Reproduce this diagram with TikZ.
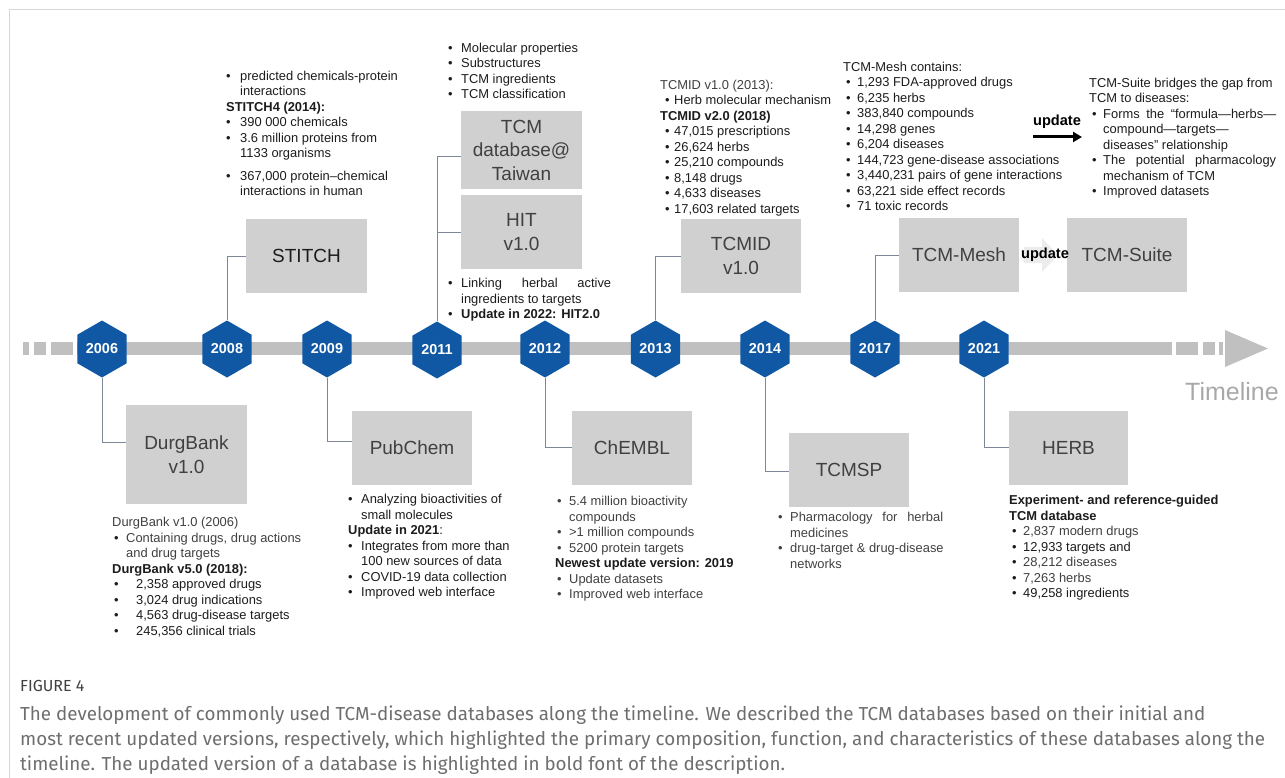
\documentclass[tikz,border=0pt]{standalone}
\usepackage{fontspec}
\setmainfont{Liberation Sans}
\newfontfamily\capfont{Fira Sans}
\usetikzlibrary{shapes.geometric,arrows.meta}
\definecolor{hexblue}{RGB}{16,88,163}
\definecolor{boxgray}{RGB}{208,208,208}
\definecolor{bargray}{RGB}{192,192,192}
\definecolor{linec}{RGB}{125,135,152}
\definecolor{txt}{RGB}{28,28,28}
\definecolor{txg}{RGB}{64,64,64}
\definecolor{capc}{RGB}{110,110,110}
\definecolor{framec}{RGB}{215,215,215}
\definecolor{tlgray}{RGB}{168,168,168}
\definecolor{faint}{RGB}{236,236,236}
\newcommand\blk[1]{\vtop{\baselineskip=15.5pt\lineskiplimit=-20pt #1}}
\newcommand\Lp[1]{\hbox{#1}}
\newcommand\Lx[3]{\hbox{\hspace*{#1}\makebox[#2][l]{\textbullet}#3}}
\newcommand\Ly[2]{\hbox{\hspace*{#1}#2}}
\begin{document}
\begin{tikzpicture}[x=1pt,y=-1pt,
  hexnode/.style={shape=regular polygon, regular polygon sides=6, shape border rotate=30,
    minimum size=57pt, inner sep=0pt, fill=hexblue, text=white,
    font=\bfseries\fontsize{14.4}{16}\selectfont},
  dbbox/.style={fill=boxgray, inner sep=0pt, minimum width=121pt, minimum height=74pt,
    text=txg, align=center, font=\fontsize{19}{23.5}\selectfont},
  conn/.style={draw=linec, line width=0.9pt},
  txtblock/.style={anchor=base west, inner sep=0pt, text=txt, font=\fontsize{12.9}{15.5}\selectfont},
]
\useasboundingbox (0,0) rectangle (1285,778);
% frame
\draw[framec, line width=1pt] (9.5,778) -- (9.5,9.5) -- (1285,9.5);

% timeline bar
\fill[bargray] (77,342) rectangle (1172,355);
\fill[bargray] (23,342) rectangle (29,355);
\fill[bargray] (34,342) rectangle (46,355);
\fill[bargray] (51,342) rectangle (73,355);
\fill[bargray] (1176,342) rectangle (1198,355);
\fill[bargray] (1203,342) rectangle (1215,355);
\fill[bargray] (1219,342) rectangle (1223,355);
\fill[bargray] (1225,330) -- (1268,348.5) -- (1225,367) -- cycle;
\node[text=tlgray, font=\fontsize{25}{30}\selectfont, inner sep=0pt] (tl) at (1232,392) {Timeline};

% hexagons
\node[hexnode] (h2006) at (102,349) {2006};
\node[hexnode] (h2008) at (227,349) {2008};
\node[hexnode] (h2009) at (327,349) {2009};
\node[hexnode] (h2011) at (437,350) {2011};
\node[hexnode] (h2012) at (545,349) {2012};
\node[hexnode] (h2013) at (655.5,349) {2013};
\node[hexnode] (h2014) at (765,349) {2014};
\node[hexnode] (h2017) at (875,349) {2017};
\node[hexnode] (h2021) at (984,349) {2021};

% boxes
\node[dbbox, text=txt] (stitch) at (306.5,256) {STITCH};
\node[dbbox, minimum height=99pt] (durg) at (186.5,454.5) {DurgBank\\v1.0};
\node[dbbox, minimum width=120pt] (pub) at (412,448) {PubChem};
\node[dbbox, minimum width=120pt] (chembl) at (632,448) {ChEMBL};
\node[dbbox, minimum height=78pt] (tcmdb) at (521.5,150) {TCM\\database@\\Taiwan};
\node[dbbox] (hit) at (521.5,232) {HIT\\v1.0};
\node[dbbox, minimum width=120pt] (tcmid) at (741,256) {TCMID\\v1.0};
\node[dbbox, minimum width=120pt] (tcmsp) at (849,470) {TCMSP};
\node[dbbox, minimum width=119pt] (herb) at (1068.5,448) {HERB};
\node[dbbox, minimum width=120pt] (mesh) at (959,255) {TCM-Mesh};
\node[dbbox, minimum width=120pt] (suite) at (1127,255) {TCM-Suite};

% connectors
\draw[conn] (h2006.south) |- (durg.west |- 0,442);
\draw[conn] (h2008.north) |- (stitch.west);
\draw[conn] (h2009.south) |- (pub.west |- 0,441);
\draw[conn] (h2011.north) |- (tcmdb.west |- 0,156);
\draw[conn] (h2011.north) |- (hit.west);
\draw[conn] (h2012.south) |- (chembl.west |- 0,447);
\draw[conn] (h2013.north) |- (tcmid.west);
\draw[conn] (h2014.south) |- (tcmsp.west |- 0,471);
\draw[conn] (h2017.north) |- (mesh.west);
\draw[conn] (h2021.south) |- (herb.west |- 0,447);

% update between mesh and suite
\fill[faint] (1024,247) -- (1042,247) -- (1042,238) -- (1058,255) -- (1042,272) -- (1042,263) -- (1024,263) -- cycle;
\node[inner sep=0pt, font=\bfseries\fontsize{14.6}{16}\selectfont] (upd2) at (1045,255) {update};

% update arrow top
\node[inner sep=0pt, font=\bfseries\fontsize{14.6}{16}\selectfont] (upd1) at (1057,122) {update};
\coordinate (ua) at (1033,137);
\coordinate (ub) at (1082,137);
\draw[line width=3pt, -{Triangle[length=9pt,width=10pt]}] (ua) -- (ub);

% text blocks
\node[txtblock] (tstitch) at (226,80.5) {\blk{%
\Lx{0pt}{14pt}{predicted chemicals-protein}
\Ly{14pt}{interactions}
\Lp{\bfseries STITCH4 (2014):}
\Lx{0pt}{14pt}{390 000 chemicals}
\Lx{0pt}{14pt}{3.6 million proteins from}
\Ly{14pt}{1133 organisms}
\vskip 7pt
\Lx{0pt}{14pt}{367,000 protein–chemical}
\Ly{14pt}{interactions in human}}};

\node[txtblock] (ttcmdb) at (448,52.5) {\blk{%
\Lx{0pt}{13pt}{Molecular properties}
\Lx{0pt}{13pt}{Substructures}
\Lx{0pt}{13pt}{TCM ingredients}
\Lx{0pt}{13pt}{TCM classification}}};

\node[txtblock] (thit) at (448,287.5) {\blk{%
\hbox{\makebox[13pt][l]{\textbullet}\makebox[150pt][s]{Linking herbal active}}
\Ly{13pt}{ingredients to targets}
\Lx{0pt}{13pt}{\bfseries Update in 2022: HIT2.0}}};

\node[txtblock] (ttcmid) at (660,89.5) {\blk{%
\Lp{\color{txg}TCMID v1.0 (2013):}
\Lx{5pt}{9pt}{Herb molecular mechanism}
\Lp{\bfseries TCMID v2.0 (2018)}
\Lx{5pt}{9pt}{47,015 prescriptions}
\Lx{5pt}{9pt}{26,624 herbs}
\Lx{5pt}{9pt}{25,210 compounds}
\Lx{5pt}{9pt}{8,148 drugs}
\Lx{5pt}{9pt}{4,633 diseases}
\Lx{5pt}{9pt}{17,603 related targets}}};

\node[txtblock] (tmesh) at (843,71.5) {\blk{%
\Lp{TCM-Mesh contains:}
\Lx{3pt}{11pt}{1,293 FDA-approved drugs}
\Lx{3pt}{11pt}{6,235 herbs}
\Lx{3pt}{11pt}{383,840 compounds}
\Lx{3pt}{11pt}{14,298 genes}
\Lx{3pt}{11pt}{6,204 diseases}
\Lx{3pt}{11pt}{144,723 gene-disease associations}
\Lx{3pt}{11pt}{3,440,231 pairs of gene interactions}
\Lx{3pt}{11pt}{63,221 side effect records}
\Lx{3pt}{11pt}{71 toxic records}}};

\node[txtblock] (tsuite) at (1089,87.5) {\blk{%
\Lp{TCM-Suite bridges the gap from}
\Lp{TCM to diseases:}
\hbox{\hspace*{3pt}\makebox[11pt][l]{\textbullet}\makebox[173pt][s]{Forms the “formula—herbs—}}
\Ly{14pt}{compound—targets—}
\Ly{14pt}{diseases” relationship}
\hbox{\hspace*{3pt}\makebox[11pt][l]{\textbullet}\makebox[173pt][s]{The potential pharmacology}}
\Ly{14pt}{mechanism of TCM}
\Lx{3pt}{11pt}{Improved datasets}}};

\node[txtblock] (tdurg) at (112,526.5) {\blk{%
\Lp{\color{txg}DurgBank v1.0 (2006)}
\Lx{2pt}{12pt}{\color{txg}Containing drugs, drug actions}
\Ly{14pt}{\color{txg}and drug targets}
\Lp{\bfseries DurgBank v5.0 (2018):}
\Lx{2pt}{22pt}{2,358 approved drugs}
\Lx{2pt}{22pt}{3,024 drug indications}
\Lx{2pt}{22pt}{4,563 drug-disease targets}
\Lx{2pt}{22pt}{245,356 clinical trials}}};

\node[txtblock] (tpub) at (348,503.5) {\blk{%
\Lx{0pt}{13pt}{Analyzing bioactivities of}
\Ly{13pt}{small molecules}
\Lp{\textbf{Update in 2021}:}
\Lx{0pt}{13pt}{Integrates from more than}
\Ly{13pt}{100 new sources of data}
\Lx{0pt}{13pt}{COVID-19 data collection}
\Lx{0pt}{13pt}{Improved web interface}}};

\node[txtblock, text=txg] (tchembl) at (555,505.5) {\blk{%
\Lx{2pt}{12pt}{5.4 million bioactivity}
\Ly{14pt}{compounds}
\Lx{2pt}{12pt}{>1 million compounds}
\Lx{2pt}{12pt}{5200 protein targets}
\Lp{\bfseries\color{txt}Newest update version: 2019}
\Lx{2pt}{12pt}{Update datasets}
\Lx{2pt}{12pt}{Improved web interface}}};

\node[txtblock, text=txg] (ttcmsp) at (778,521.5) {\blk{%
\hbox{\makebox[12pt][l]{\textbullet}\makebox[153pt][s]{Pharmacology for herbal}}
\Ly{12pt}{medicines}
\Lx{0pt}{12pt}{drug-target \& drug-disease}
\Ly{12pt}{networks}}};

\node[txtblock] (therb) at (1009,504.5) {\blk{%
\Lp{\bfseries Experiment- and reference-guided}
\Lp{\bfseries TCM database}
\Lx{3pt}{11pt}{\color{txg}2,837 modern drugs}
\Lx{3pt}{11pt}{12,933 targets and}
\Lx{3pt}{11pt}{\color{txg}28,212 diseases}
\Lx{3pt}{11pt}{\color{txg}7,263 herbs}
\Lx{3pt}{11pt}{49,258 ingredients}}};

% caption
\node[anchor=base west, inner sep=0pt, text=txg, font=\capfont\fontsize{16}{20}\selectfont] (fig) at (20,691) {FIGURE 4};
\node[anchor=base west, inner sep=0pt, text=capc, font=\capfont\fontsize{18.8}{25}\selectfont] (cap) at (20,720) {\vtop{\baselineskip=25pt
\hbox{The development of commonly used TCM-disease databases along the timeline. We described the TCM databases based on their initial and}
\hbox{most recent updated versions, respectively, which highlighted the primary composition, function, and characteristics of these databases along the}
\hbox{timeline. The updated version of a database is highlighted in bold font of the description.}}};
\end{tikzpicture}
\end{document}
